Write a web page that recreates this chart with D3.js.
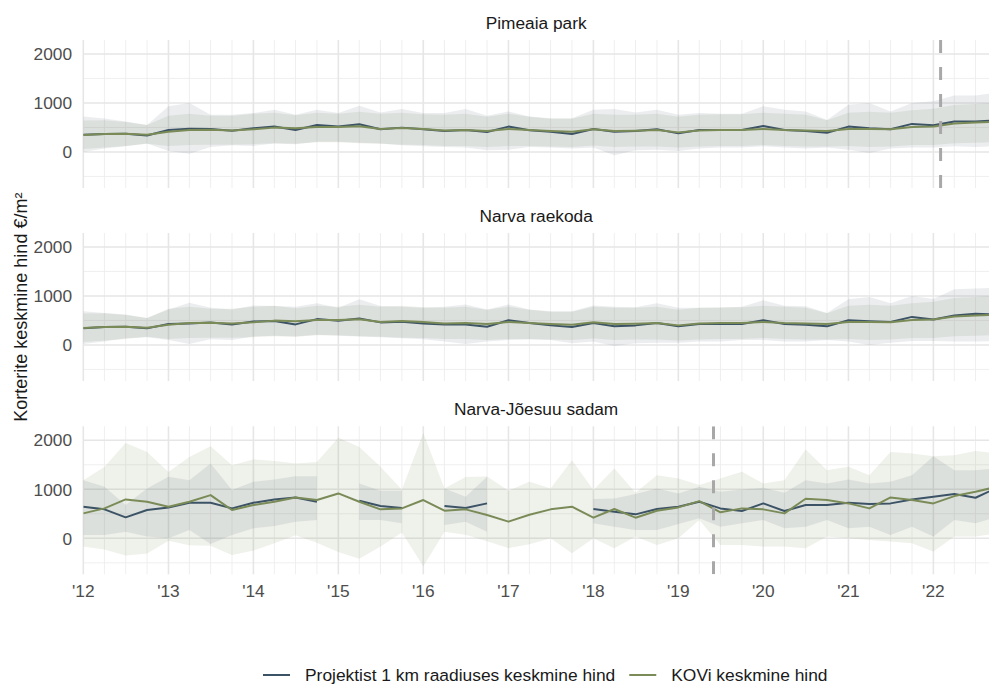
<!DOCTYPE html>
<html>
<head>
<meta charset="utf-8">
<script src="https://cdn.jsdelivr.net/npm/d3@7"></script>
<style>
  body { margin: 0; background: #fff; }
  svg { display: block; }
  text { font-family: "Liberation Sans", Arial, sans-serif; }
</style>
</head>
<body>
<svg id="chart" width="989" height="684"></svg>
<script>
// Quarterly apartment price averages (€/m²), 2012 Q1 – 2022 Q4
const quarters = d3.utcMonth.every(3).range(new Date(Date.UTC(2012, 0, 1)), new Date(Date.UTC(2023, 0, 1)));

const panelTitles = ["Pimeaia park", "Narva raekoda", "Narva-Jõesuu sadam"];
const seriesNames = ["Projektist 1 km raadiuses keskmine hind", "KOVi keskmine hind"];
const markerDates = ["2022-02-01", null, "2019-06-01"];

// Pimeaia park – 1 km radius
const pimeaiaProj   = [352,366,373,338,449,476,469,435,483,518, 449,552,518,566,462,497,462,428,449,407, 518,442,414,366,469,414,428,462,380,449, 449,449,531,449,428,393,518,483,462,573, 545,621,621,650];
const pimeaiaProjHi = [725,683,621,552,931,1000,760,760,793,862, 760,862,793,945,807,876,793,793,876,738, 828,725,690,690,862,876,807,862,760,793, 780,780,931,862,828,655,966,1000,828,1000, 1035,1152,1152,1207];
const pimeaiaProjLo = [0,69,117,172,20,-35,103,138,124,172, 159,207,207,186,172,138,117,103,90,35, 48,103,90,69,90,-69,35,48,20,69, 90,90,117,90,69,90,48,-20,69,90, 90,117,103,117];

// Narva raekoda – 1 km radius
const raekodaProj   = [339,366,373,339,427,440,461,420,481,491, 420,528,494,542,461,474,440,420,420,373, 504,449,400,366,449,380,400,449,380,428, 428,428,504,428,414,380,504,483,469,573, 518,600,635,620];
const raekodaProjHi = [690,655,621,552,724,862,759,724,807,793, 780,849,759,931,793,780,759,780,828,724, 828,724,690,690,807,780,770,849,759,760, 760,780,911,800,790,655,931,980,850,1000, 940,1138,1152,1170];
const raekodaProjLo = [20,69,138,159,103,20,117,103,172,186, 172,207,186,172,159,138,117,69,20,69, 103,110,103,35,69,-20,35,48,48,69, 69,103,103,69,69,103,69,0,48,83, 83,69,69,80];

// Narva linn (KOV) – shared by the two Narva panels
const narvaKov   = [345,366,373,352,415,449,455,440,462,497, 483,510,510,524,469,490,469,440,449,430, 469,449,428,414,462,428,435,449,400,440, 449,449,469,449,440,428,469,469,462,510, 518,580,600,620];
const narvaKovHi = [640,650,610,550,740,780,740,740,780,800, 750,800,780,820,780,800,770,760,780,720, 780,720,680,680,780,760,760,780,720,760, 770,770,800,780,760,650,800,820,800,850, 880,960,980,1000];
const narvaKovLo = [60,90,120,170,120,140,150,150,160,180, 170,200,200,180,170,150,140,120,120,100, 120,120,110,100,130,100,110,110,90,110, 120,120,140,120,110,110,120,100,110,140, 140,180,190,200];

// Narva-Jõesuu sadam – 1 km radius (gaps where no sales)
const joesuuProj   = [644,590,427,576,630,725,725,610,725,793, 834,746,null,766,658,617,null,658,617,712, null,null,null,null,597,542,488,597,644,746, 610,556,712,556,678,678,725,698,712,793, 848,902,827,1030];
const joesuuProjHi = [1186,1050,678,1017,1254,1186,1525,983,1152,1200, 1268,1268,null,1119,970,970,null,1017,848,1254, null,null,null,null,800,814,902,1017,915,1051, 949,997,1031,929,1186,1119,1200,1119,1153,1288, 1675,1390,1390,1424];
const joesuuProjLo = [68,68,135,34,0,170,-115,68,203,250, 339,373,null,373,373,305,null,271,339,135, null,null,null,null,305,237,170,170,292,407, 237,305,373,203,237,373,203,237,68,237, 34,373,305,441];

// Narva-Jõesuu linn (KOV)
const joesuuKov   = [508,610,793,746,644,746,881,576,678,746, 834,780,915,746,590,610,780,563,590,475, 339,480,590,644,420,597,420,563,630,759, 529,610,590,508,807,780,712,610,834,780, 712,861,949,1051];
const joesuuKovHi = [1185,1455,1943,1760,1354,1660,1876,1490,1606,1579, 1525,1559,2053,1862,1458,990,2150,1016,1252,1260, 970,1153,1017,1593,983,1424,929,1288,1220,1085, 1220,1356,1119,1186,1810,1390,1458,1288,1763,1729, 1675,1695,1783,1729];
const joesuuKovLo = [-170,-230,-350,-310,-50,-140,-150,-340,-250,-100, 60,-90,-280,-420,-170,120,-570,135,70,-60, -200,-120,0,-305,0,-203,34,-136,0,373, -136,-136,-170,-170,-203,34,0,-34,-68,-100, -271,34,34,100];

const yMajor = [0, 1000, 2000];
const yMinor = [-500, 500, 1500];

// ---- layout & styles ----
const colProj = "#3c5366", colKov = "#7b8b58";
const plotLeft = 83.3, plotRight = 989;
const panelTops = [40, 233, 426.3], panelH = 148;

const panels = [
  { title: panelTitles[0], proj: pimeaiaProj, projLo: pimeaiaProjLo, projHi: pimeaiaProjHi, kov: narvaKov, kovLo: narvaKovLo, kovHi: narvaKovHi, marker: markerDates[0] },
  { title: panelTitles[1], proj: raekodaProj, projLo: raekodaProjLo, projHi: raekodaProjHi, kov: narvaKov, kovLo: narvaKovLo, kovHi: narvaKovHi, marker: markerDates[1] },
  { title: panelTitles[2], proj: joesuuProj, projLo: joesuuProjLo, projHi: joesuuProjHi, kov: joesuuKov, kovLo: joesuuKovLo, kovHi: joesuuKovHi, marker: markerDates[2] }
];

const svg = d3.select("#chart");

const x = d3.scaleUtc()
  .domain([new Date(Date.UTC(2012, 0, 1)), new Date(Date.UTC(2022, 7, 28))])
  .range([plotLeft, plotRight]);

const yearTicks = d3.utcYear.range(new Date(Date.UTC(2012, 0, 1)), new Date(Date.UTC(2023, 0, 1)));
const quarterTicks = quarters.filter(d => d.getUTCMonth() !== 0 && d <= x.domain()[1]);

panels.forEach((p, k) => {
  const top = panelTops[k];
  const y = d3.scaleLinear().domain([-735, 2285]).range([top + panelH, top]);
  const g = svg.append("g");

  const clipId = "clip" + k;
  svg.append("clipPath").attr("id", clipId)
    .append("rect").attr("x", plotLeft).attr("y", top).attr("width", plotRight - plotLeft).attr("height", panelH);

  // grid
  const grid = g.append("g");
  grid.selectAll(".vmin").data(quarterTicks).join("line")
    .attr("x1", d => x(d)).attr("x2", d => x(d)).attr("y1", top).attr("y2", top + panelH)
    .attr("stroke", "#ededed").attr("stroke-width", 0.9);
  grid.selectAll(".hmin").data(yMinor).join("line")
    .attr("x1", plotLeft).attr("x2", plotRight).attr("y1", d => y(d)).attr("y2", d => y(d))
    .attr("stroke", "#ededed").attr("stroke-width", 0.9);
  grid.selectAll(".vmaj").data(yearTicks).join("line")
    .attr("x1", d => x(d)).attr("x2", d => x(d)).attr("y1", top).attr("y2", top + panelH)
    .attr("stroke", "#e6e6e6").attr("stroke-width", 1.6);
  grid.selectAll(".hmaj").data(yMajor).join("line")
    .attr("x1", plotLeft).attr("x2", plotRight).attr("y1", d => y(d)).attr("y2", d => y(d))
    .attr("stroke", "#e6e6e6").attr("stroke-width", 1.6);

  const plot = g.append("g").attr("clip-path", `url(#${clipId})`);

  const rows = (mean, lo, hi) => quarters.map((d, i) => ({ d, v: mean[i], lo: lo[i], hi: hi[i] }));
  const kovRows = rows(p.kov, p.kovLo, p.kovHi);
  const projRows = rows(p.proj, p.projLo, p.projHi);

  const area = d3.area().defined(r => r.lo != null && r.hi != null)
    .x(r => x(r.d)).y0(r => y(r.lo)).y1(r => y(r.hi));
  const line = d3.line().defined(r => r.v != null)
    .x(r => x(r.d)).y(r => y(r.v));

  plot.append("path").attr("d", area(kovRows)).attr("fill", colKov).attr("fill-opacity", 0.12);
  plot.append("path").attr("d", area(projRows)).attr("fill", colProj).attr("fill-opacity", 0.1);

  plot.append("path").attr("d", line(projRows)).attr("fill", "none")
    .attr("stroke", colProj).attr("stroke-width", 2).attr("stroke-linejoin", "round");
  plot.append("path").attr("d", line(kovRows)).attr("fill", "none")
    .attr("stroke", colKov).attr("stroke-width", 2).attr("stroke-linejoin", "round");

  if (p.marker) {
    const md = new Date(p.marker + "T00:00:00Z");
    plot.append("line")
      .attr("x1", x(md)).attr("x2", x(md)).attr("y1", top).attr("y2", top + panelH)
      .attr("stroke", "#a8a8a8").attr("stroke-width", 3).attr("stroke-dasharray", "13,14");
  }

  // strip title
  svg.append("text")
    .attr("x", (plotLeft + plotRight) / 2).attr("y", top - 11)
    .attr("text-anchor", "middle").attr("font-size", 17.3).attr("fill", "#1a1a1a")
    .text(p.title);

  // y tick labels
  svg.append("g").selectAll("text").data(yMajor).join("text")
    .attr("x", 72).attr("y", d => y(d)).attr("dy", "0.36em")
    .attr("text-anchor", "end").attr("font-size", 17.3).attr("fill", "#4d4d4d")
    .text(d => d);

  // x tick labels under the last panel
  if (k === panels.length - 1) {
    svg.append("g").selectAll("text").data(yearTicks).join("text")
      .attr("x", d => x(d)).attr("y", 597)
      .attr("text-anchor", "middle").attr("font-size", 17.3).attr("fill", "#4d4d4d")
      .text(d => "'" + d3.utcFormat("%y")(d));
  }
});

// y axis title
svg.append("text")
  .attr("transform", `translate(27,${(panelTops[0] + panelTops[2] + panelH) / 2}) rotate(-90)`)
  .attr("text-anchor", "middle").attr("font-size", 18).attr("fill", "#1a1a1a")
  .text("Korterite keskmine hind €/m²");

// legend
const legend = svg.append("g").attr("transform", "translate(263,675)");
let lx = 0;
[colProj, colKov].forEach((c, i) => {
  legend.append("line").attr("x1", lx).attr("x2", lx + 27).attr("y1", 0).attr("y2", 0)
    .attr("stroke", c).attr("stroke-width", 2);
  const t = legend.append("text").attr("x", lx + 42).attr("y", 0).attr("dy", "0.35em")
    .attr("font-size", 17.4).attr("fill", "#1a1a1a").text(seriesNames[i]);
  lx = lx + 42 + t.node().getComputedTextLength() + 14;
});
</script>
</body>
</html>
